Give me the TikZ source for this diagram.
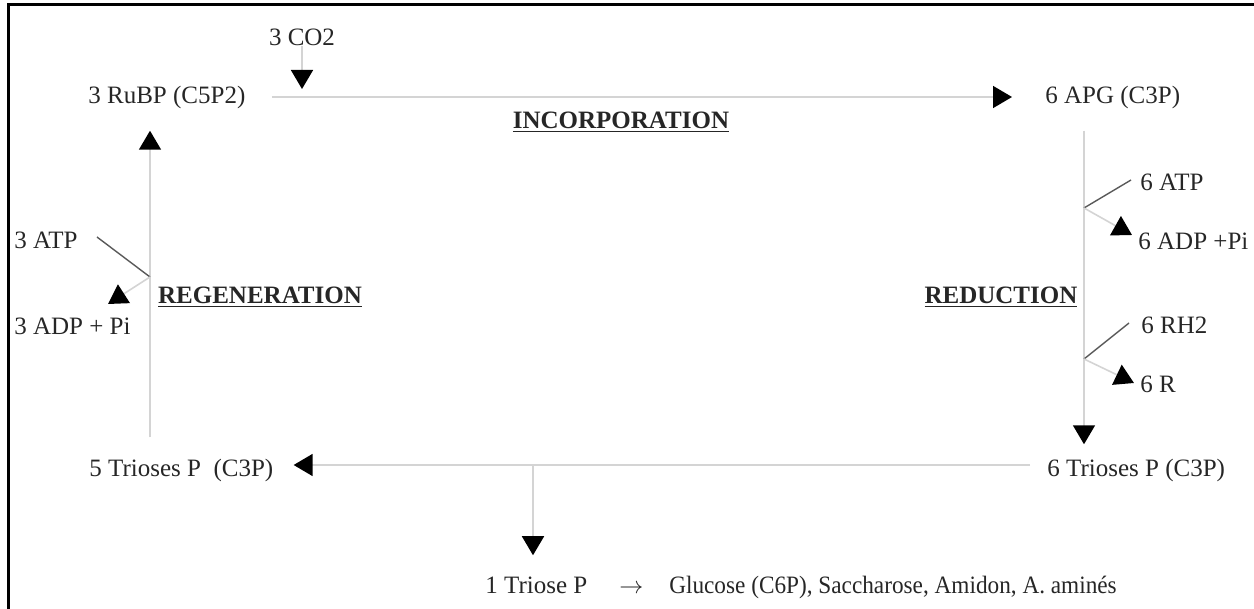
\documentclass[tikz,border=0pt]{standalone}
\usepackage{fontspec}
\setmainfont{Liberation Serif}
\usetikzlibrary{positioning, arrows.meta, calc}

\begin{document}
\begin{tikzpicture}[
  x=0.5pt, y=-0.5pt,
  lbl/.style={inner sep=0pt, anchor=west, text=black!85, font=\fontsize{12.5}{15}\selectfont},
  phase/.style={inner sep=0pt, text=black!85, font=\fontsize{12.5}{15}\selectfont\bfseries},
  flow/.style={draw=black!17, line width=0.8pt},
  arr/.style={flow, -{Triangle[length=9.5pt, width=11pt, color=black]}},
  feed/.style={draw=black!65, line width=0.7pt},
  frame/.style={draw=black, line width=1.5pt},
]
  \useasboundingbox (0,0) rectangle (1254,609);
  \draw[frame] (8,609) -- (8,5) -- (1254,5);

  % metabolites of the cycle
  \node[lbl] (rubp) at (88,97) {3 RuBP (C5P2)};
  \node[lbl] (apg) at (1045,97) {6 APG (C3P)};
  \node[lbl] (triR) at (1047,470) {6 Trioses P (C3P)};
  \node[lbl] (triL) at (89,470) {5 Trioses P~ (C3P)};
  \node[lbl, anchor=center] (co2) at (302,37) {3 CO2};
  \node[lbl] (triose) at (485,587) {1 Triose P\hspace{16pt}$\rightarrow$\hspace{13pt}{\addfontfeature{FakeStretch=0.93}Glucose (C6P), Saccharose, Amidon, A. aminés}};

  % phases
  \node[phase] (incorp) at (621,122) {\underline{INCORPORATION}};
  \node[phase] (reduc) at (1001,297) {\underline{REDUCTION}};
  \node[phase] (regen) at (260,297) {\underline{REGENERATION}};

  % cofactors
  \node[lbl] (atp6) at (1140,182) {6 ATP};
  \node[lbl] (adp6) at (1138,241) {6 ADP +Pi};
  \node[lbl] (rh6) at (1141,325) {6 RH2};
  \node[lbl] (r6) at (1140,384) {6 R};
  \node[lbl] (atp3) at (14,240) {3 ATP};
  \node[lbl] (adp3) at (14,326) {3 ADP + Pi};

  % branch points and free ends
  \coordinate (fix) at (302,89);
  \coordinate (b1) at (1084,208);
  \coordinate (b2) at (1084,359);
  \coordinate (b3) at (150,277);
  \coordinate (split) at (533,465);
  \coordinate (a1) at (1131,180);
  \coordinate (a2) at (1129,323);
  \coordinate (a3) at (97,237);
  \coordinate (t1) at (1132,235);
  \coordinate (t2) at (1134,383);
  \coordinate (t3) at (108,304);

  % main cycle
  \draw[arr] (co2) -- (fix);
  \draw[arr, shorten <=13pt, shorten >=16.5pt] (rubp.east) -- (apg.west);
  \draw[arr, shorten <=11pt, shorten >=7pt] (apg.south -| b1) -- (triR.north -| b1);
  \draw[arr, shorten <=8.5pt, shorten >=10pt] (triR.west |- split) -- (triL.east |- split);
  \draw[arr, shorten >=10pt] (split) -- (split |- triose.north);
  \draw[arr, shorten <=10.5pt, shorten >=11pt] (triL.north -| b3) -- (rubp.south -| b3);

  % cofactor branches
  \draw[feed] (b1) -- (a1);
  \draw[arr] (b1) -- (t1);
  \draw[feed] (b2) -- (a2);
  \draw[arr] (b2) -- (t2);
  \draw[feed] (b3) -- (a3);
  \draw[arr] (b3) -- (t3);
\end{tikzpicture}
\end{document}
